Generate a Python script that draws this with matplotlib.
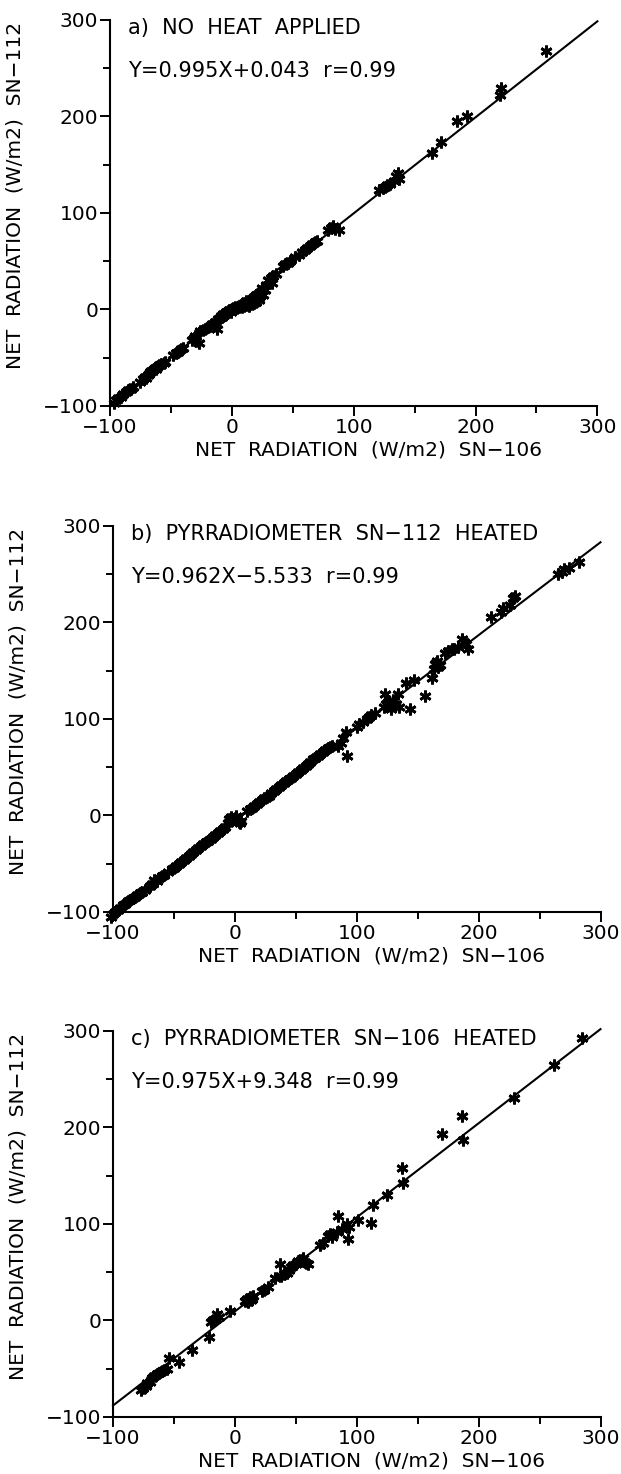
import matplotlib
matplotlib.use("Agg")
import matplotlib.pyplot as plt
import numpy as np

# ---- data (W/m2) ----
# a) no heat applied
a_x = [-97, -95, -93, -91, -89, -87, -85, -83, -81,
       -75, -73, -71, -70, -69, -68, -67, -66, -65, -64, -63, -62, -61, -60, -58, -56, -55,
       -48, -46, -44, -42, -40,
       -33, -31, -30, -29, -27, -26, -24, -22,
       -18, -16, -14, -12, -11, -10, -9, -8, -7, -6, -5, -4, -3, -2, -1,
       0, 1, 2, 3, 4, 5, 6, 7, 8, 9, 10, 11, 12, 13, 14, 15, 16, 17, 18, 19, 20,
       21, 22, 23, 24, 25, 26, 27, 28, 33, 20, 18, 15, 12, 10, 8,
       30, 32, 34, 36, 42, 44, 46, 48, 52, 55,
       58, 60, 62, 64, 66, 68, 70,
       79, 81, 83, 85, 88,
       121, 124, 126, 127, 130, 133, 135, 136, 137,
       164, 172, 185, 193, 220, 221, 258]
a_y = [-97, -94, -92, -91, -88, -86, -84, -82, -80,
       -75, -72, -70, -71, -68, -67, -65, -64, -63, -62, -61, -62, -60, -58, -57, -55, -54,
       -47, -45, -44, -41, -40,
       -32, -30, -28, -33, -35, -22, -21, -20,
       -17, -15, -13, -20, -10, -9, -7, -8, -5, -6, -3, -4, -2, -1, -3,
       0, 1, 0, 2, 1, 3, 2, 4, 3, 5, 4, 6, 5, 7, 4, 8, 6, 10, 7, 9, 8,
       12, 10, 14, 18, 22, 15, 20, 25, 27, 15, 13, 10, 9, 7, 6,
       30, 33, 35, 37, 45, 47, 48, 50, 54, 56,
       60, 62, 64, 66, 68, 70, 71,
       82, 84, 86, 83, 82,
       124, 126, 127, 129, 130, 133, 138, 141, 135,
       162, 174, 195, 200, 222, 229, 268]

# b) pyrradiometer SN-112 heated
b_x = [-102, -100, -98, -96, -94, -92, -90, -88, -86, -84, -82, -80, -78, -76, -74,
       -70, -68, -66, -64, -62, -60, -58, -55, -52, -50, -48, -46, -44, -42, -40,
       -38, -36, -34, -32, -30, -28, -26, -24, -22, -20, -18, -16, -14, -12, -10,
       -8, -6, -5, -4, -3, -2, 0, 1, 2, 3, 4, 5,
       10, 12, 14, 16, 18, 20, 22, 24, 26, 28, 30, 32, 34, 36, 38, 40, 42, 44, 46,
       48, 50, 52, 54, 56, 58, 60, 62, 64, 66, 68, 70, 72, 74, 76, 78, 80, 85, 87,
       89, 91, 92,
       100, 102, 105, 108, 110, 112, 115,
       122, 123, 124, 126, 128, 130, 132, 135, 134, 140, 147, 144,
       156, 162, 163, 164, 165, 166, 167, 168,
       172, 175, 178, 180, 183, 186, 188, 190, 191,
       210, 218, 220, 226, 228, 230,
       265, 268, 270, 274, 282]
b_y = [-105, -102, -100, -98, -96, -93, -92, -89, -88, -86, -84, -82, -80, -79, -77,
       -73, -71, -67, -68, -65, -63, -62, -59, -56, -54, -52, -50, -48, -46, -44,
       -42, -40, -38, -36, -34, -32, -30, -28, -26, -24, -22, -20, -18, -16, -14,
       -12, -8, -4, -6, -2, -4, -3, -1, -5, -7, -8, -6,
       5, 7, 8, 10, 12, 14, 16, 18, 19, 20, 23, 25, 27, 30, 32, 34, 36, 38, 39,
       41, 43, 45, 47, 49, 51, 53, 55, 58, 60, 62, 64, 66, 68, 70, 71, 72, 72, 75,
       80, 86, 62,
       92, 95, 97, 100, 102, 104, 106,
       112, 126, 115, 118, 110, 120, 115, 112, 126, 137, 140, 110,
       124, 142, 152, 157, 158, 160, 154, 156,
       168, 170, 172, 172, 175, 183, 180, 178, 172,
       206, 211, 215, 218, 225, 227,
       250, 252, 255, 256, 263]

# c) pyrradiometer SN-106 heated
c_x = [-77, -75, -73, -72, -70, -68, -66, -64, -62, -60, -58, -56,
       -54, -46, -35, -21, -20, -18, -16, -15, -13, -4,
       8, 10, 11, 12, 13, 14, 15, 22, 24, 27,
       33, 37, 38, 40, 43, 44, 46, 48, 50, 52, 54, 56, 58, 60,
       70, 72, 76, 78, 80, 84, 85, 88, 92, 93, 94, 101, 112, 113,
       125, 137, 138, 170, 186, 187, 229, 262, 285]
c_y = [-72, -70, -68, -65, -64, -60, -58, -56, -54, -52, -51, -50,
       -39, -43, -31, -17, -2, 0, 2, 7, 4, 10,
       20, 22, 19, 24, 21, 22, 25, 30, 32, 35,
       44, 58, 46, 48, 49, 52, 55, 57, 58, 62, 63, 65, 60, 58,
       78, 80, 88, 90, 86, 92, 108, 95, 100, 84, 97, 104, 101, 120,
       130, 158, 142, 193, 212, 187, 230, 265, 293]

panel_x = [a_x, b_x, c_x]
panel_y = [a_y, b_y, c_y]
slopes = [0.995, 0.962, 0.975]
intercepts = [0.043, -5.533, 9.348]
titles = ["a)  NO  HEAT  APPLIED",
          "b)  PYRRADIOMETER  SN\u2212112  HEATED",
          "c)  PYRRADIOMETER  SN\u2212106  HEATED"]
equations = ["Y=0.995X+0.043  r=0.99",
             "Y=0.962X\u22125.533  r=0.99",
             "Y=0.975X+9.348  r=0.99"]
xlabel = "NET  RADIATION  (W/m2)  SN\u2212106"
ylabel = "NET  RADIATION  (W/m2)  SN\u2212112"
ticks = [-100, 0, 100, 200, 300]
minor_ticks = [-50, 50, 150, 250]

plt.rcParams.update({
    "font.family": "DejaVu Sans",
    "font.size": 15,
    "axes.linewidth": 1.5,
})

fig = plt.figure(figsize=(6.21, 14.74), dpi=100)
# axes boxes in figure fractions (left, bottom, width, height)
boxes = [(0.177, 0.7246, 0.785, 0.2619),
         (0.182, 0.3813, 0.785, 0.2619),
         (0.182, 0.0387, 0.785, 0.2619)]

for i, box in enumerate(boxes):
    ax = fig.add_axes(box)
    ax.set_xlim(-100, 300)
    ax.set_ylim(-100, 300)
    for side in ("top", "right"):
        ax.spines[side].set_visible(False)

    xs = np.array(panel_x[i], dtype=float)
    ys = np.array(panel_y[i], dtype=float)
    ax.plot(xs, ys, linestyle="none", marker=(6, 2, 0), markersize=8.5,
            markeredgewidth=2.0, color="black", clip_on=False, zorder=3)

    lx = np.array([-100.0, 300.0])
    ax.plot(lx, slopes[i] * lx + intercepts[i], color="black", lw=1.5,
            clip_on=False, zorder=2)

    ax.set_xticks(ticks)
    ax.set_yticks(ticks)
    ax.set_xticks(minor_ticks, minor=True)
    ax.set_yticks(minor_ticks, minor=True)
    ax.tick_params(which="major", direction="out", length=7, width=1.4,
                   pad=1.5, labelsize=14.5)
    ax.tick_params(which="minor", direction="out", length=5, width=1.4)

    ax.text(-85, 285, titles[i], ha="left", va="baseline")
    ax.text(-85, 241, equations[i], ha="left", va="baseline")

    ax.set_xlabel(xlabel, fontsize=14.5)
    ax.set_ylabel(ylabel, fontsize=14.5)
    ax.xaxis.set_label_coords(0.53, -0.09)
    ax.yaxis.set_label_coords(-0.175, 0.545)

fig.savefig("out.png", dpi=100)
